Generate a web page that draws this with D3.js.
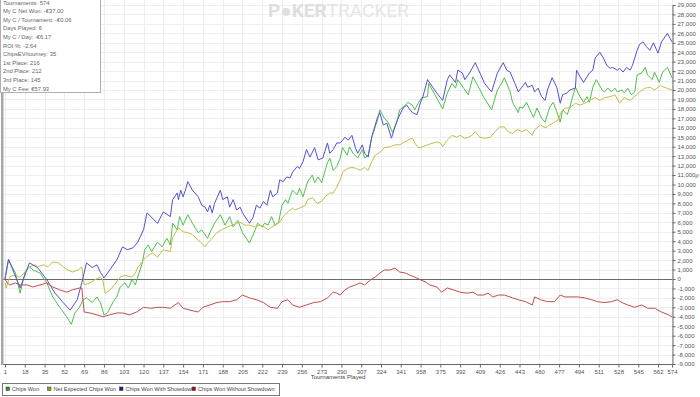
<!DOCTYPE html>
<html>
<head>
<meta charset="utf-8">
<script src="https://cdn.jsdelivr.net/npm/d3@7"></script>
<style>
  body { margin: 0; background: #fff; }
  svg { display: block; font-family: "Liberation Sans", Arial, sans-serif; }
</style>
</head>
<body>
<svg id="chart" width="700" height="397"></svg>
<script>
// Données : [tournoi, jetons]
const chipsWon = [[1,0],[4,2000],[10,630],[14,-1500],[18,630],[22,1300],[25,950],[31,630],[37,-420],[42,-1900],[48,-3000],[54,-4000],[58,-4800],[61,-3600],[65,-3000],[68,-2200],[71,-2000],[76,-2500],[80,-1900],[83,-2500],[86,-3800],[89,-3600],[94,-2400],[97,-1900],[100,-850],[104,-420],[107,-950],[110,-100],[113,-630],[115,200],[119,1700],[121,3100],[124,3600],[127,2900],[132,3900],[136,3400],[140,4300],[143,3600],[145,5900],[149,5200],[151,6600],[154,5700],[158,6800],[162,5900],[167,4900],[170,5200],[175,4300],[177,4900],[181,5900],[186,6800],[190,5700],[194,6600],[197,5500],[201,6200],[205,4900],[211,3800],[216,5200],[218,5900],[222,5500],[224,5900],[227,5700],[230,6600],[233,5700],[236,6000],[239,7800],[242,8400],[244,8000],[248,9400],[252,8900],[254,9600],[257,8700],[261,10300],[265,11000],[267,10200],[270,10800],[273,10200],[278,12300],[280,12800],[283,11500],[286,11900],[289,12800],[291,13900],[295,13100],[297,14000],[300,13300],[304,12800],[308,13700],[310,12800],[313,13100],[316,15000],[321,16800],[323,17900],[327,17000],[330,16600],[334,15500],[338,16800],[340,17900],[345,18400],[347,18700],[351,18400],[353,17900],[356,18600],[359,19200],[364,19300],[365,20700],[369,19800],[373,18900],[377,18000],[381,19700],[385,20700],[388,20200],[390,21100],[395,20200],[399,19500],[403,21400],[407,20500],[412,19300],[419,17900],[424,20000],[428,20800],[430,21300],[435,19800],[437,18700],[442,17600],[443,18200],[446,18100],[449,18700],[452,17900],[455,17100],[458,18100],[462,17000],[465,16600],[469,18200],[472,18700],[475,17700],[478,16600],[480,17900],[484,17400],[486,18100],[491,20300],[495,19300],[498,18700],[501,19300],[503,18700],[506,20300],[509,21100],[514,20000],[516,19800],[519,20200],[522,19800],[525,20200],[527,19800],[531,20000],[533,19700],[536,20200],[539,19500],[542,19800],[544,21600],[548,21800],[551,22400],[553,21600],[557,21100],[559,21900],[563,20800],[566,21900],[570,22400],[574,21300]];

const netExpected = [[1,-400],[2,-950],[5,200],[8,400],[14,200],[18,740],[22,1300],[27,1500],[29,1300],[34,1500],[38,1300],[42,1800],[47,1700],[51,1300],[55,950],[59,740],[64,950],[67,1300],[69,-630],[74,-420],[78,-100],[83,200],[85,-100],[87,-1500],[91,-1200],[95,-630],[100,200],[104,400],[110,200],[113,630],[115,1200],[120,2000],[124,2500],[128,2750],[132,2300],[137,3100],[143,2900],[145,4400],[150,5400],[154,5000],[158,4900],[162,4700],[167,4100],[170,3800],[173,3400],[175,3800],[179,4300],[183,4900],[187,5200],[192,5500],[196,5700],[200,5900],[203,6000],[207,5700],[211,5700],[216,5500],[220,5700],[224,5500],[227,5200],[230,5500],[233,5700],[237,6000],[240,6600],[244,7100],[248,7500],[250,7300],[254,7500],[259,7800],[261,8400],[265,8600],[269,8000],[273,8200],[276,8700],[280,9100],[283,9100],[286,9700],[289,10500],[291,11300],[295,11700],[299,11800],[303,11700],[306,11500],[310,11800],[313,11500],[316,12400],[319,13100],[323,13400],[327,13900],[332,14000],[336,14200],[340,14200],[343,14400],[347,14700],[351,14900],[353,14400],[356,13900],[360,14000],[364,14200],[369,14400],[372,14500],[375,14400],[377,14000],[381,14700],[385,15200],[389,15000],[392,15200],[396,14900],[399,15000],[402,15200],[405,15600],[409,15000],[413,14900],[418,15000],[422,15600],[426,16100],[430,16100],[433,15600],[437,15400],[441,15800],[445,15600],[449,15800],[454,15200],[456,15800],[461,16300],[465,16000],[469,16300],[473,16600],[476,16800],[479,17700],[482,18100],[486,18100],[491,18600],[495,18400],[499,18600],[503,18900],[508,19200],[512,18900],[516,19200],[521,19300],[525,19500],[529,18600],[533,19200],[538,18900],[542,19300],[546,19800],[551,20200],[555,20300],[559,20000],[564,20500],[567,20300],[574,20000]];

const wonWithShowdown = [[1,0],[4,2100],[14,-950],[22,1700],[29,1200],[37,-100],[44,-1500],[51,-2500],[57,-3300],[63,-2200],[67,-400],[71,1700],[76,1200],[80,1500],[83,700],[86,100],[91,950],[97,2000],[102,3400],[106,3100],[111,3300],[115,3900],[120,5200],[123,7000],[132,5900],[137,7100],[143,6600],[145,8400],[149,9100],[150,8400],[152,9400],[154,8700],[156,9400],[158,10300],[162,9400],[167,8700],[170,7800],[173,7600],[175,7100],[177,7800],[179,7000],[181,8000],[186,9400],[188,8400],[192,8700],[194,7600],[197,8400],[200,7300],[203,7600],[205,7000],[211,5900],[214,6500],[217,7800],[220,7500],[223,8200],[226,7800],[229,9400],[231,8700],[235,9100],[237,10500],[240,10300],[243,10800],[246,10700],[248,11300],[252,11900],[254,11700],[257,12400],[260,13700],[263,12900],[267,13900],[270,12600],[274,12800],[278,14400],[280,13300],[283,13700],[286,14400],[289,14400],[293,15000],[296,14700],[299,15200],[302,13900],[304,13300],[308,14200],[310,13300],[313,12900],[316,15000],[321,17100],[323,17600],[326,16300],[329,16500],[333,14900],[336,16100],[339,17100],[343,18100],[346,18400],[351,17600],[355,17400],[358,18700],[360,19300],[364,21100],[369,20200],[373,19500],[377,18900],[381,21100],[383,21600],[388,20800],[390,22100],[394,21800],[396,21100],[400,21800],[405,22900],[409,21800],[413,20700],[419,19800],[424,21800],[429,22900],[432,22100],[435,21900],[439,20700],[442,19800],[445,20300],[448,20800],[450,20300],[454,20500],[456,19800],[459,20200],[462,19300],[465,18900],[467,20000],[471,21300],[475,20300],[478,18600],[480,19500],[484,19700],[486,20000],[491,20200],[492,22100],[495,21400],[498,20800],[501,21400],[503,21800],[506,22100],[508,23400],[512,24000],[515,23400],[518,22600],[521,22300],[523,22400],[527,22100],[529,22300],[532,21900],[535,22400],[538,22100],[540,22600],[544,24200],[546,24800],[549,25100],[552,24600],[555,24200],[558,25000],[562,23900],[565,25100],[570,26000],[574,25100]];

const wonWithoutShowdown = [[1,0],[3,-420],[5,-630],[10,-420],[14,-630],[20,-630],[25,-850],[31,-630],[37,-420],[42,-850],[48,-1150],[54,-1400],[59,-1150],[65,-950],[67,-950],[69,-3500],[74,-3600],[80,-3800],[85,-4000],[91,-3800],[97,-3600],[102,-3600],[108,-3800],[114,-3500],[120,-3000],[126,-3100],[132,-3000],[137,-3000],[143,-3100],[150,-2500],[154,-3100],[160,-3300],[167,-3500],[171,-3000],[177,-2750],[183,-2500],[188,-2400],[194,-2400],[200,-2200],[205,-1700],[211,-2000],[217,-2200],[223,-2500],[229,-3000],[235,-3100],[239,-2400],[244,-2200],[248,-2750],[254,-3000],[260,-2750],[266,-2500],[272,-2400],[278,-2000],[283,-1400],[286,-1500],[289,-1700],[293,-1150],[297,-850],[302,-630],[306,-420],[310,-630],[315,-100],[319,200],[323,630],[327,950],[332,950],[336,1150],[340,740],[345,630],[349,400],[353,200],[358,-100],[362,-300],[366,-630],[372,-850],[376,-1400],[381,-950],[386,-1150],[392,-1400],[398,-1500],[403,-1400],[407,-1700],[412,-1700],[416,-1500],[420,-1900],[425,-1700],[430,-1700],[437,-2000],[442,-2200],[448,-2400],[454,-2750],[456,-1900],[461,-2200],[467,-2400],[473,-2400],[478,-1700],[482,-1900],[488,-1900],[493,-1900],[499,-2000],[505,-2200],[510,-2400],[516,-2500],[522,-2400],[527,-2200],[531,-2500],[536,-2750],[542,-3000],[548,-2750],[553,-3100],[559,-3100],[565,-3500],[571,-3800],[574,-4000]];

const seriesNames = ["Chips Won", "Net Expected Chips Won", "Chips Won With Showdown", "Chips Won Without Showdown"];
const lineColors = ["#4fc04f", "#c4bd4a", "#5252d2", "#c44c4c"];
const legendColors = ["#1f9a1f", "#a09a10", "#1c1c9c", "#9c1c1c"];

const xTicks = [1,18,35,52,69,86,103,120,137,154,171,188,205,222,239,256,273,290,307,324,341,358,375,392,409,426,443,460,477,494,511,528,545,562,574];
const yTicks = [-9000,-8000,-7000,-6000,-5000,-4000,-3000,-2000,-1000,0,1000,2000,3000,4000,5000,6000,7000,8000,9000,10000,11000,12000,13000,14000,15000,16000,17000,18000,19000,20000,21000,22000,23000,24000,25000,26000,27000,28000,29000];

const stats = ["Tournaments: 574", "My C Net Won: -€37.00", "My C / Tournament: -€0.06", "Days Played: 6", "My C / Day: -€6.17", "ROI %: -2.64", "ChipsEV/tourney: 35", "1st Place: 216", "2nd Place: 212", "3rd Place: 145", "My C Fee: €57.93"];

const svg = d3.select("#chart");
const x = d3.scaleLinear().domain([1, 574]).range([5, 672]);
const y = d3.scaleLinear().domain([-9000, 29000]).range([364, 5]);

// Grille
svg.append("g").selectAll("line.h").data(yTicks).enter().append("line")
  .attr("x1", 3).attr("x2", 672)
  .attr("y1", d => Math.round(y(d)) + 0.5).attr("y2", d => Math.round(y(d)) + 0.5)
  .attr("stroke", "#efefef");
svg.append("g").selectAll("line.v").data(xTicks).enter().append("line")
  .attr("x1", d => Math.round(x(d)) + 0.5).attr("x2", d => Math.round(x(d)) + 0.5)
  .attr("y1", 0).attr("y2", 364)
  .attr("stroke", "#efefef");

// Filigrane
const wm = svg.append("text").attr("x", 268).attr("y", 17)
  .attr("font-family", "Roboto, 'Open Sans', sans-serif").attr("font-size", 19);
wm.append("tspan").attr("font-weight", "bold").attr("fill", "#dedede").text("P\u25CFKER");
wm.append("tspan").attr("fill", "#e6e6e6").text("TRACKER");

// Ligne du zéro
svg.append("line")
  .attr("x1", 3).attr("x2", 672)
  .attr("y1", Math.round(y(0)) + 0.5).attr("y2", Math.round(y(0)) + 0.5)
  .attr("stroke", "#6a6a6a");

// Courbes
const line = d3.line().x(d => x(d[0])).y(d => y(d[1]));
[chipsWon, netExpected, wonWithShowdown, wonWithoutShowdown].forEach((serie, i) => {
  svg.append("path")
    .datum(serie)
    .attr("d", line)
    .attr("fill", "none")
    .attr("stroke", lineColors[i])
    .attr("stroke-width", 1);
});

// Axe de droite
const fmt = d => d3.format(",")(d).replace("\u2212", "-");
const yAxis = svg.append("g")
  .attr("transform", "translate(672.5,0)")
  .call(d3.axisRight(y).tickValues(yTicks).tickSize(3).tickPadding(2).tickFormat(fmt));
yAxis.select(".domain").attr("stroke", "#666");
yAxis.selectAll(".tick line").attr("stroke", "#666");
yAxis.selectAll("text").attr("font-size", 6).attr("fill", "#555").attr("font-family", "Liberation Sans, Arial, sans-serif");

svg.append("text")
  .attr("transform", "translate(698.5,176) rotate(-90)")
  .attr("text-anchor", "middle")
  .attr("font-size", 5).attr("fill", "#555")
  .text("%");

// Axe du bas
const xAxis = svg.append("g")
  .attr("transform", "translate(0,364.5)")
  .call(d3.axisBottom(x).tickValues(xTicks).tickSize(3).tickPadding(2));
xAxis.select(".domain").attr("stroke", "#666").attr("d", "M3,0H672.5");
xAxis.selectAll(".tick line").attr("stroke", "#666");
xAxis.selectAll("text").attr("font-size", 6).attr("fill", "#555").attr("font-family", "Liberation Sans, Arial, sans-serif");

svg.append("text")
  .attr("x", 338).attr("y", 379)
  .attr("text-anchor", "middle")
  .attr("font-size", 6).attr("fill", "#444")
  .text("Tournaments Played");

// Barre grise à gauche
svg.append("rect").attr("x", 1).attr("y", 92).attr("width", 2.5).attr("height", 273).attr("fill", "#a8a8a8");

// Encadré des statistiques
svg.append("rect").attr("x", 0.5).attr("y", -1).attr("width", 100).attr("height", 93.5)
  .attr("fill", "#fff").attr("stroke", "#b0b0b0");
svg.append("g").selectAll("text").data(stats).enter().append("text")
  .attr("x", 3).attr("y", (d, i) => 4.5 + i * 8.6)
  .attr("font-size", 5.8).attr("fill", "#666")
  .text(d => d);

// Légende
const legendX = [6, 47.5, 119.5, 192];
svg.append("rect").attr("x", 2.5).attr("y", 383.5).attr("width", 277).attr("height", 12)
  .attr("fill", "#fff").attr("stroke", "#777");
const items = svg.append("g").selectAll("g").data(seriesNames).enter().append("g")
  .attr("transform", (d, i) => `translate(${legendX[i]},387)`);
items.append("rect").attr("width", 3.5).attr("height", 3.5)
  .attr("fill", (d, i) => legendColors[i]).attr("stroke", "#333").attr("stroke-width", 0.5);
items.append("text").attr("x", 6).attr("y", 4)
  .attr("font-size", 5.6).attr("fill", "#444")
  .text(d => d);
</script>
</body>
</html>
